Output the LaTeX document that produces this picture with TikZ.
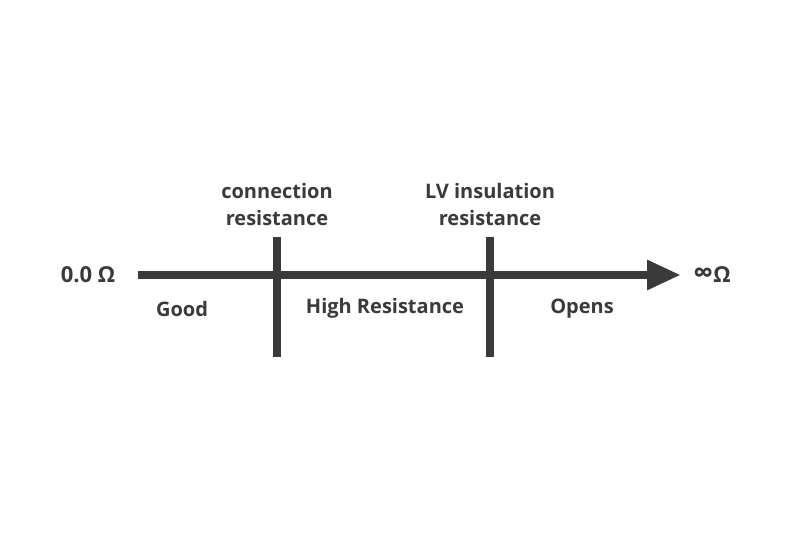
\documentclass[tikz,border=0pt]{standalone}
\usepackage{fontspec}
\setmainfont{Open Sans}
\usetikzlibrary{arrows.meta}
\definecolor{ink}{HTML}{3A3A3A}
\begin{document}
\begin{tikzpicture}[x=1pt,y=-1pt,
  lbl/.style={font=\bfseries\fontsize{20}{27}\selectfont,text=ink,align=center,inner sep=0pt},
  endlbl/.style={font=\bfseries\fontsize{22}{24}\selectfont,text=ink,inner sep=0pt},
  bar/.style={draw=ink,line width=8.5pt}]
\useasboundingbox (0,0) rectangle (800,538);
\fill[white] (0,0) rectangle (800,538);
\coordinate (s) at (138,275);
\coordinate (e) at (681,275);
\draw[draw=ink,line width=8.5pt,-{Triangle[length=34pt,width=28pt]}] (s) -- (e);
\coordinate (b1t) at (277,237); \coordinate (b1b) at (277,357);
\coordinate (b2t) at (490,237); \coordinate (b2b) at (490,357);
\draw[bar] (b1t) -- (b1b);
\draw[bar] (b2t) -- (b2b);
\node[endlbl] (zero) at (88,275) {0.0 Ω};
\node[endlbl] (inf) at (712,275) {{\fontsize{28}{28}\selectfont∞}Ω};
\node[lbl] (c) at (277,204) {connection\\resistance};
\node[lbl] (lv) at (490,204) {LV insulation\\resistance};
\node[lbl] (g) at (182,309) {Good};
\node[lbl] (h) at (385,308) {High Resistance};
\node[lbl] (o) at (582,309) {Opens};
\end{tikzpicture}
\end{document}
